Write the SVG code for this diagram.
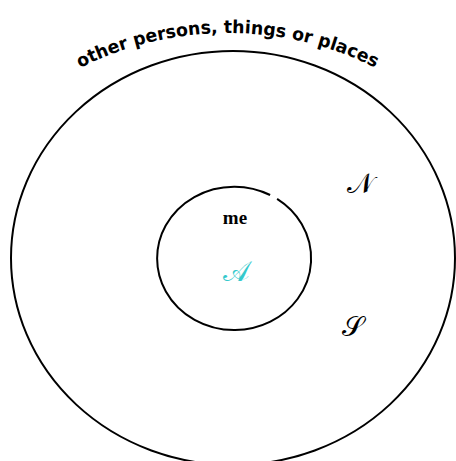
<svg xmlns="http://www.w3.org/2000/svg" width="456" height="461" viewBox="0 0 456 461">
<style>
.ring{fill:none;stroke:#000;stroke-width:2}
.lbl{font-family:"DejaVu Sans",sans-serif;font-weight:bold;font-size:18px;fill:#000}
.me{font-family:"Liberation Serif",serif;font-weight:bold;font-size:19px;fill:#000}
.sym{font-family:"DejaVu Serif","DejaVu Sans","Noto Sans",serif;font-style:normal;font-size:28px}
</style>
<defs>
<path id="arc" d="M 80 68 A 330 330 0 0 1 376 68"/>
</defs>
<rect width="456" height="461" fill="#fff"/>
<g id="outer">
<ellipse class="ring" cx="233" cy="258" rx="222" ry="207"/>
<text class="lbl"><textPath href="#arc" textLength="306" lengthAdjust="spacingAndGlyphs">other persons, things or places</textPath></text>
<text class="sym" x="360" y="193" text-anchor="middle" fill="#000">𝒩</text>
<text class="sym" x="353" y="336" text-anchor="middle" fill="#000">𝒮</text>
</g>
<g id="inner">
<path class="ring" d="M 277.1 198.9 A 77 71.7 0 1 1 270.1 195.0"/>
<text class="me" x="235" y="224" text-anchor="middle">me</text>
<text class="sym" x="236" y="281" text-anchor="middle" fill="#33c9cc">𝒜</text>
</g>
</svg>
